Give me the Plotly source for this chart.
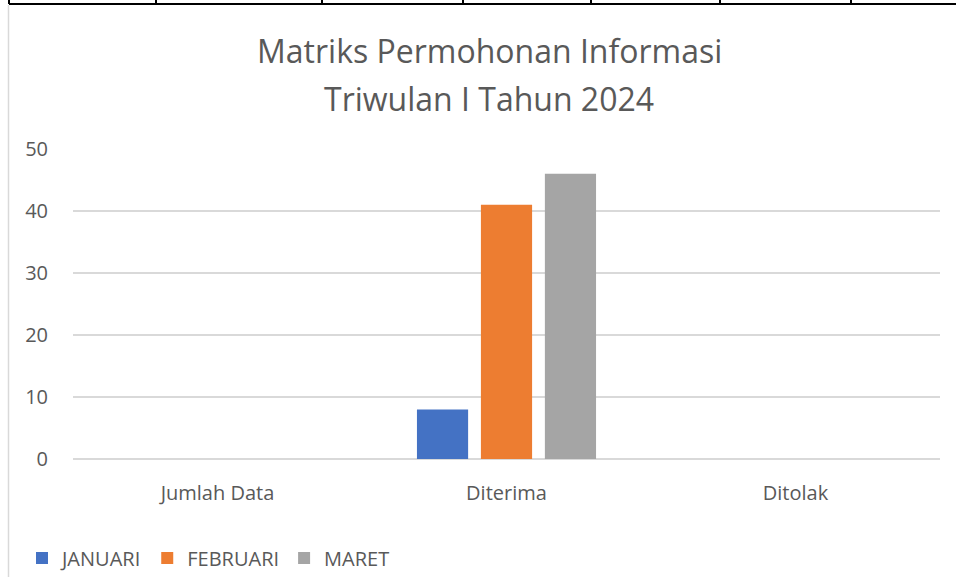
import plotly.graph_objects as go

# data
categories = ["Jumlah Data", "Diterima", "Ditolak"]
months = ["JANUARI", "FEBRUARI", "MARET"]
januari = [0, 8, 0]
februari = [0, 41, 0]
maret = [0, 46, 0]
colors = ["#4472C4", "#ED7D31", "#A5A5A5"]

W, H = 956, 577
ML, MR, MT, MB = 73, 16, 149, 118
PW, PH = W - ML - MR, H - MT - MB


def px_x(x):
    return (x - ML) / PW


def px_y(y):
    return (H - MB - y) / PH


fig = go.Figure()
for name, vals, c in zip(months, [januari, februari, maret], colors):
    fig.add_trace(go.Bar(x=categories, y=vals, name=name, marker_color=c,
                         marker_line_width=0))

font = "Open Sans, DejaVu Sans, sans-serif"
grey = "#595959"

# spreadsheet cell lines + chart frame (decoration)
shapes = [
    dict(type="line", xref="paper", yref="paper", x0=px_x(9), x1=px_x(W),
         y0=px_y(4), y1=px_y(4), line=dict(color="#000", width=2)),
    dict(type="line", xref="paper", yref="paper", x0=px_x(8.5), x1=px_x(8.5),
         y0=px_y(5), y1=px_y(H), line=dict(color="#d9d9d9", width=1.5)),
]
for vx in [9, 156, 322, 463, 591, 720, 851]:
    shapes.append(dict(type="line", xref="paper", yref="paper",
                       x0=px_x(vx), x1=px_x(vx), y0=px_y(0), y1=px_y(4),
                       line=dict(color="#000", width=2)))

title_lines = ["Matriks Permohonan Informasi", "Triwulan I Tahun 2024"]
annotations = [
    dict(text=t, xref="paper", yref="paper", x=px_x(489), y=px_y(yc),
         xanchor="center", yanchor="middle", showarrow=False,
         font=dict(size=32, color=grey, family=font))
    for t, yc in zip(title_lines, [50, 98])
]

fig.update_layout(
    width=W, height=H,
    margin=dict(l=ML, r=MR, t=MT, b=MB),
    paper_bgcolor="white", plot_bgcolor="white",
    font=dict(family=font, color=grey, size=20),
    barmode="group", bargap=0.336, bargroupgap=0.2,
    shapes=shapes,
    annotations=annotations,
    legend=dict(orientation="h", xref="container", yref="container",
                x=22 / W, y=1 - 558 / H, xanchor="left", yanchor="middle",
                font=dict(size=20, color=grey), itemwidth=30,
                traceorder="normal"),
    showlegend=True,
)
fig.update_yaxes(range=[0, 50], dtick=10, gridcolor="#d9d9d9", gridwidth=1.6,
                 zeroline=True, zerolinecolor="#d9d9d9", zerolinewidth=1.6,
                 showline=False, ticklabelstandoff=24, tickfont=dict(size=20))
fig.update_xaxes(showline=False, showgrid=False, ticklabelstandoff=20,
                 tickfont=dict(size=20))

fig.write_html("out.html", config={"displayModeBar": False},
               post_script="document.body.style.margin='0';")
